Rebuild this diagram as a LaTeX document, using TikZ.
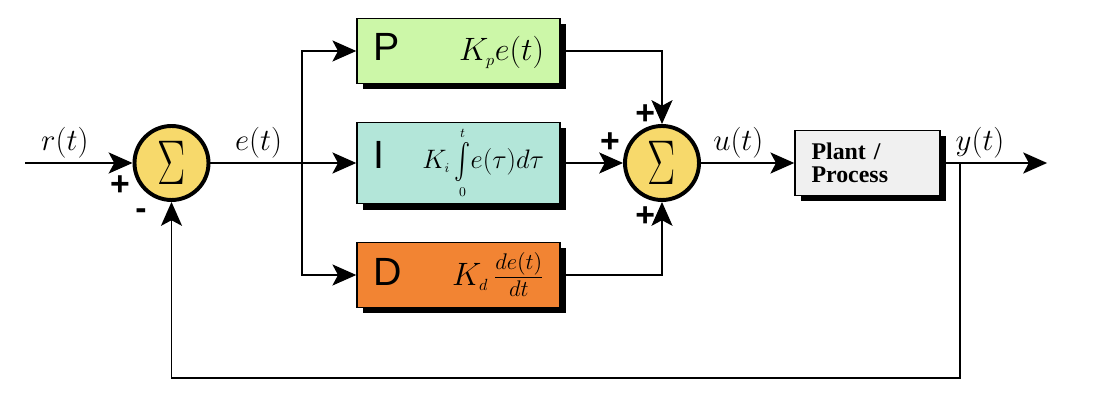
\documentclass[tikz,border=0pt]{standalone}
\usepackage{fix-cm}
\usepackage{amsmath}
\usepackage{fontspec}
\usepackage{graphicx}
\usetikzlibrary{arrows.meta,shadows}
\newfontfamily\pidfont{Liberation Sans}
\newfontfamily\plantfont{Liberation Serif}
\definecolor{pgreen}{HTML}{CCF7A8}
\definecolor{iteal}{HTML}{B3E6D9}
\definecolor{dorange}{HTML}{F28433}
\definecolor{sumyellow}{HTML}{F7D96B}
\definecolor{plantgray}{HTML}{F0F0F0}
\newcommand{\pidletter}[1]{{\pidfont\fontsize{28}{30}\selectfont #1}}
\newcommand{\sumsign}{\scalebox{1}[1.5]{$\Sigma$}}
\newcommand{\tallint}{\mathop{\vcenter{\hbox{\scalebox{1}[1.45]{$\int$}}}}}

\begin{document}
\begin{tikzpicture}[node distance=4.0cm,
    sumnode/.style={circle, draw, line width=2.8pt, fill=sumyellow, minimum size=1.85cm, inner sep=0pt, font=\fontsize{30}{32}\selectfont},
    pidbox/.style={draw, line width=1pt, minimum width=5.075cm, minimum height=1.625cm, text width=4.275cm, inner xsep=0.4cm,
      font=\fontsize{23}{26}\selectfont, drop shadow={shadow xshift=0.15cm, shadow yshift=-0.15cm, fill=black, opacity=1}},
    plantbox/.style={draw, line width=1pt, fill=plantgray, minimum height=1.625cm, text width=2.8cm, inner xsep=0.4125cm, align=left,
      font=\plantfont\bfseries\fontsize{17}{16}\selectfont, drop shadow={shadow xshift=0.15cm, shadow yshift=-0.15cm, fill=black, opacity=1}},
    sig/.style={-{Stealth[length=17pt, width=15pt, inset=4pt]}, line width=1.4pt},
    wire/.style={line width=1.1pt},
    lbl/.style={font=\fontsize{22}{26}\selectfont, inner sep=3pt},
    sign/.style={font=\pidfont\bfseries\fontsize{24}{26}\selectfont, inner sep=0pt}]
  \useasboundingbox (-4.2875,-5.925) rectangle (23.1875,4.075);
  \node(sum1)[sumnode] {\sumsign};
  \coordinate(rin) at (-3.66,0);
  \coordinate[right of=sum1, node distance=3.26cm] (br);
  \node(i)[pidbox, fill=iteal, right of=sum1, node distance=7.175cm] {\pidletter{I}\hfill{\fontsize{19}{22}\selectfont$K_{\scriptscriptstyle i}\tallint\limits_{\scriptscriptstyle 0}^{\scriptscriptstyle t}\!e(\tau)d\tau$}};
  \node(p)[pidbox, fill=pgreen, above of=i, node distance=2.8cm] {\pidletter{P}\hfill$K_{\scriptscriptstyle p}e(t)$};
  \node(d)[pidbox, fill=dorange, below of=i, node distance=2.8cm] {\pidletter{D}\hfill$K_{\scriptscriptstyle d}\,\frac{de(t)}{dt}$};
  \node(sum2)[sumnode, right of=i, node distance=5.0875cm] {\sumsign};
  \node(plant)[plantbox, right of=sum2, node distance=5.1375cm] {Plant /\\Process};
  \coordinate[right of=plant, node distance=2.31cm] (ybr);
  \coordinate[right of=plant, node distance=4.49cm] (yout);
  \coordinate[below of=ybr, node distance=5.375cm] (fb);
  \node(plus1)[sign, xshift=-1.29cm, yshift=-0.575cm] at (sum1) {+};
  \node(minus1)[sign, xshift=-0.76cm, yshift=-1.275cm] at (sum1) {-};
  \node(plusp)[sign, xshift=-0.42cm, yshift=1.2cm] at (sum2) {+};
  \node(plusi)[sign, xshift=-1.3cm, yshift=0.5cm] at (sum2) {+};
  \node(plusd)[sign, xshift=-0.42cm, yshift=-1.35cm] at (sum2) {+};
  \draw[sig] (rin) -- (sum1) node[lbl, pos=0.37, above] (lr) {$r(t)$};
  \draw[sig] (sum1) -- (i) node[lbl, pos=0.33, above] (le) {$e(t)$};
  \draw[sig, wire] (br) |- (p);
  \draw[sig, wire] (br) |- (d);
  \draw[sig, wire] (p) -| (sum2);
  \draw[sig, wire] (i) -- (sum2);
  \draw[sig, wire] (d) -| (sum2);
  \draw[sig] (sum2) -- (plant) node[lbl, pos=0.4, above] (lu) {$u(t)$};
  \draw[sig] (plant) -- (yout) node[lbl, pos=0.37, above] (ly) {$y(t)$};
  \draw[sig, wire] (ybr) -- (fb) -| (sum1);
\end{tikzpicture}
\end{document}
